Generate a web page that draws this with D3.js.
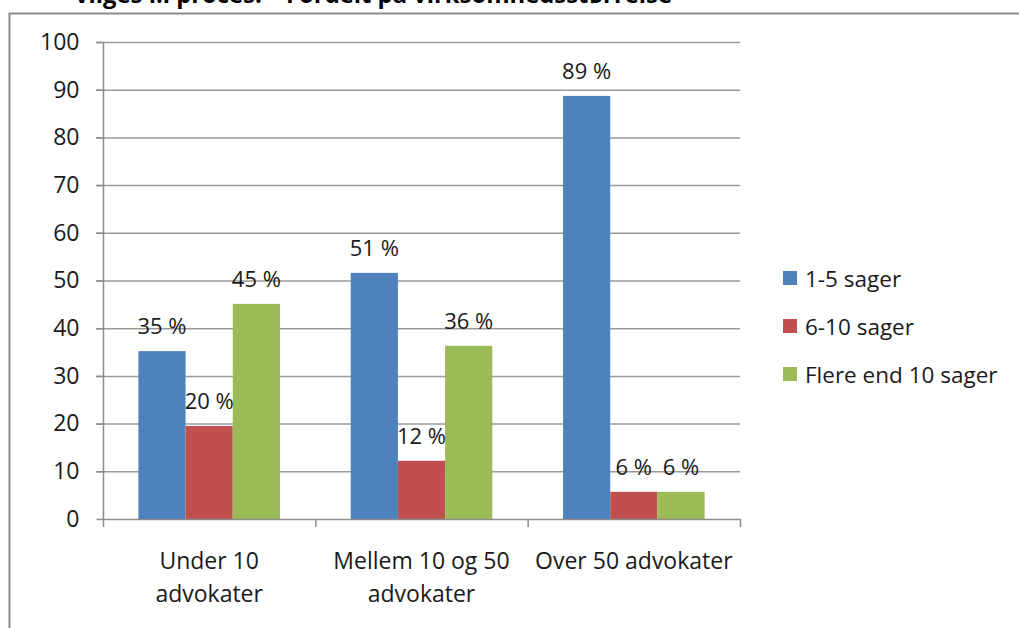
<!DOCTYPE html>
<html><head><meta charset="utf-8">
<script src="https://cdn.jsdelivr.net/npm/d3@7"></script>
<style>
html,body{margin:0;padding:0;background:#fff;overflow:hidden;}
text{font-family:"Open Sans",Lato,sans-serif;fill:#1a1a1a;}
</style></head>
<body><svg id="c" width="1019" height="628"></svg>
<script>
const categories = [["Under 10","advokater"],["Mellem 10 og 50","advokater"],["Over 50 advokater"]];
const seriesNames = ["1-5 sager","6-10 sager","Flere end 10 sager"];
const seriesColors = ["#4f81bd","#c0504d","#9bbb59"];
const valuesSmall = [35.2, 19.5, 45.1];
const valuesMedium = [51.6, 12.2, 36.3];
const valuesLarge = [88.7, 5.7, 5.7];
const labelsSmall = ["35  %","20 %","45 %"];
const labelsMedium = ["51 %","12 %","36 %"];
const labelsLarge = ["89 %","6 %","6 %"];
const yTicks = [0,10,20,30,40,50,60,70,80,90,100];
const titleText = "vilges i.i proces.  –  Fordelt på virksomhedsstørrelse";

const values = [valuesSmall, valuesMedium, valuesLarge];
const labels = [labelsSmall, labelsMedium, labelsLarge];

const svg = d3.select("#c");
// outer frame
svg.append("path").attr("d","M9.5,640 V13.5 H1030").attr("fill","none").attr("stroke","#8c8c8c").attr("stroke-width",2);
// cut-off title (clipped at the top edge, as in the reference)
svg.append("text").attr("x",75).attr("y",3).attr("font-weight","bold").attr("font-size",23)
  .attr("textLength",597).attr("lengthAdjust","spacingAndGlyphs")
  .style("fill","#000").text(titleText);

const x0 = d3.scaleBand().domain(d3.range(categories.length)).range([103,740]).paddingInner(0).paddingOuter(0);
const x1 = d3.scaleBand().domain(d3.range(seriesNames.length)).range([0,x0.bandwidth()]).paddingInner(0).paddingOuter(0.75);
const y = d3.scaleLinear().domain([0,100]).range([519,42]);

// gridlines
svg.append("g").selectAll("line").data(yTicks.filter(d=>d>0)).join("line")
  .attr("x1",96).attr("x2",740).attr("y1",d=>y(d)+0.5).attr("y2",d=>y(d)+0.5)
  .attr("stroke","#9a9a9a").attr("stroke-width",1.5);

// y axis
const ya = svg.append("g").attr("transform","translate(103.5,0)")
  .call(d3.axisLeft(y).tickValues(yTicks).tickSize(7).tickPadding(17));
ya.select(".domain").attr("stroke","#8c8c8c").attr("stroke-width",1.5).attr("d","M0,"+y(100)+"V"+y(0));
ya.selectAll(".tick line").attr("stroke","#8c8c8c").attr("stroke-width",1.5);
ya.selectAll(".tick text").attr("font-size",23).style("fill","#1a1a1a").attr("font-family","Open Sans");

// bars
const g = svg.append("g");
values.forEach((vals,ci)=>{
  const gx = x0(ci);
  g.selectAll(null).data(vals).join("rect")
    .attr("x",(d,i)=>gx+x1(i)).attr("width",x1.bandwidth())
    .attr("y",d=>y(d)).attr("height",d=>y(0)-y(d))
    .attr("fill",(d,i)=>seriesColors[i]);
  g.selectAll(null).data(vals).join("text")
    .attr("x",(d,i)=>gx+x1(i)+x1.bandwidth()/2).attr("y",d=>y(d)-26)
    .attr("text-anchor","middle").attr("dominant-baseline","central")
    .attr("font-size",22).text((d,i)=>labels[ci][i]);
});

// x axis
svg.append("line").attr("x1",103).attr("x2",740).attr("y1",519.5).attr("y2",519.5)
  .attr("stroke","#8c8c8c").attr("stroke-width",1.5);
const bounds = d3.range(categories.length+1).map(i=> i<categories.length ? x0(i) : x0(i-1)+x0.bandwidth());
svg.append("g").selectAll("line").data(bounds).join("line")
  .attr("x1",d=>d+0.5).attr("x2",d=>d+0.5).attr("y1",519).attr("y2",527)
  .attr("stroke","#8c8c8c").attr("stroke-width",1.5);
categories.forEach((lines,ci)=>{
  const t = svg.append("text").attr("x",x0(ci)+x0.bandwidth()/2).attr("y",569)
    .attr("text-anchor","middle").attr("font-size",23);
  lines.forEach((l,li)=>t.append("tspan").attr("x",x0(ci)+x0.bandwidth()/2).attr("dy",li?33:0).text(l));
});

// legend
const lg = svg.append("g").attr("transform","translate(783,271)");
seriesNames.forEach((n,i)=>{
  lg.append("rect").attr("x",0).attr("y",i*48).attr("width",14).attr("height",14).attr("fill",seriesColors[i]);
  lg.append("text").attr("x",22).attr("y",i*48+7).attr("dominant-baseline","central").attr("font-size",22.5).text(n);
});
</script></body></html>
